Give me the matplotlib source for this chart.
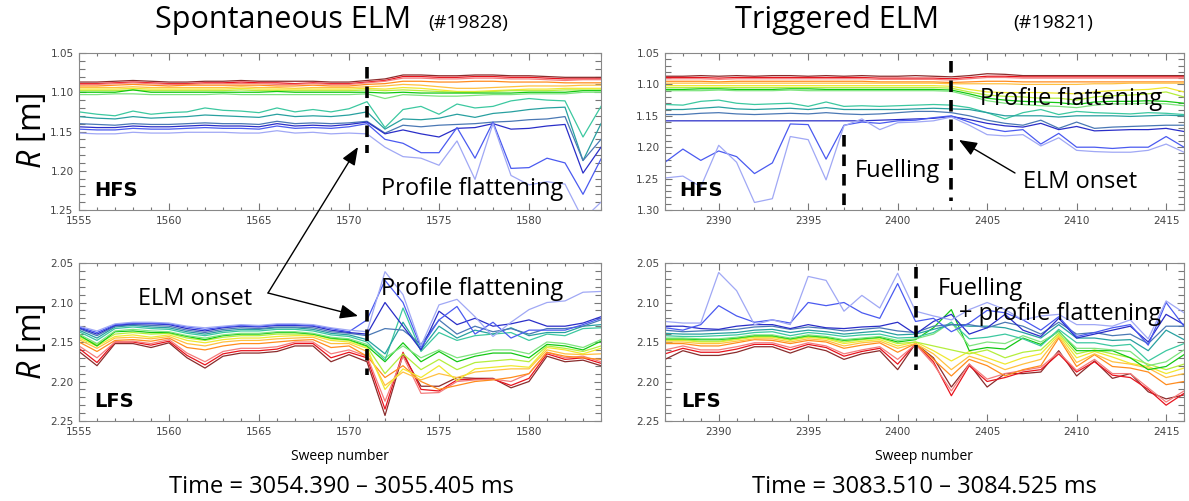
import numpy as np
import matplotlib
matplotlib.use("Agg")
import matplotlib.pyplot as plt
from matplotlib.patches import FancyArrowPatch
from matplotlib.ticker import MultipleLocator, FormatStrFormatter

plt.rcParams['font.family'] = ['Open Sans', 'DejaVu Sans']
plt.rcParams['mathtext.fontset'] = 'custom'
plt.rcParams['mathtext.it'] = 'Open Sans:italic'
plt.rcParams['mathtext.rm'] = 'Open Sans'

# ---------------------------------------------------------------- data
sweeps_spont = np.arange(1555, 1585)
sweeps_trig = np.arange(2387, 2417)

# density-layer colours, from highest density (red) to lowest (light blue)
layer_colors = ['#8b2c2c', '#e8141e', '#f47c7c', '#ff8c1e', '#ffc040',
                '#f0e830', '#b4ee3c', '#14c814', '#7ee47e', '#3cc8a0',
                '#28a0a0', '#4a78b4', '#2a2ec8', '#4a5af0', '#a0a8f5']

# reflectometry layer positions R in mm, one row per layer
hfs_spont = [
    [1087,1087,1086,1085,1086,1087,1087,1086,1086,1085,1086,1086,1086,1086,1087,1087,1085,1083,1078,1078,1079,1079,1078,1078,1079,1079,1080,1081,1081,1081],
    [1089,1089,1088,1087,1088,1089,1089,1088,1088,1087,1088,1088,1089,1088,1089,1089,1087,1085,1080,1080,1081,1081,1080,1080,1081,1081,1082,1083,1083,1083],
    [1090,1090,1089,1088,1089,1090,1090,1089,1089,1089,1089,1090,1090,1089,1090,1090,1088,1086,1082,1082,1083,1083,1082,1082,1083,1083,1084,1085,1084,1084],
    [1092,1092,1091,1090,1091,1092,1091,1091,1091,1091,1091,1092,1092,1091,1092,1092,1090,1089,1086,1086,1087,1087,1086,1086,1087,1087,1087,1088,1088,1088],
    [1094,1094,1094,1093,1094,1094,1094,1094,1094,1093,1094,1094,1095,1094,1094,1094,1093,1092,1090,1091,1093,1095,1095,1094,1093,1092,1092,1092,1091,1091],
    [1096,1096,1096,1095,1096,1096,1096,1096,1096,1095,1096,1096,1096,1096,1096,1096,1095,1096,1094,1095,1097,1099,1099,1098,1097,1096,1096,1095,1095,1095],
    [1098,1098,1098,1097,1098,1098,1098,1098,1098,1097,1098,1098,1098,1098,1098,1098,1097,1098,1097,1098,1099,1100,1100,1099,1098,1098,1098,1097,1097,1097],
    [1100,1100,1100,1097,1100,1100,1100,1100,1100,1100,1100,1099,1100,1100,1100,1100,1100,1101,1100,1101,1101,1101,1101,1101,1101,1100,1100,1100,1098,1098],
    [1103,1103,1102,1102,1103,1103,1103,1103,1102,1103,1103,1103,1103,1103,1103,1103,1102,1108,1103,1104,1105,1105,1104,1103,1103,1102,1102,1102,1100,1100],
    [1125,1128,1130,1124,1128,1126,1125,1120,1123,1124,1126,1120,1125,1122,1125,1121,1112,1145,1122,1118,1128,1115,1120,1118,1111,1108,1110,1111,1157,1118],
    [1131,1133,1134,1131,1133,1132,1131,1129,1130,1131,1132,1128,1131,1130,1131,1129,1125,1147,1134,1135,1133,1128,1132,1127,1125,1122,1120,1119,1187,1140],
    [1140,1141,1142,1140,1141,1141,1140,1139,1140,1140,1141,1137,1140,1139,1140,1139,1137,1152,1142,1144,1142,1141,1140,1138,1137,1135,1134,1131,1187,1160],
    [1144,1145,1145,1143,1144,1144,1143,1142,1143,1143,1144,1140,1143,1142,1143,1141,1138,1153,1148,1153,1157,1146,1145,1140,1147,1146,1143,1141,1203,1170],
    [1147,1148,1148,1146,1147,1147,1146,1145,1146,1146,1147,1143,1146,1145,1146,1144,1140,1160,1165,1177,1177,1145,1184,1138,1197,1196,1184,1190,1230,1185],
    [1152,1153,1153,1151,1152,1152,1151,1151,1151,1152,1152,1149,1152,1151,1153,1152,1153,1170,1182,1184,1193,1162,1211,1140,1206,1218,1214,1217,1262,1240],
]

lfs_spont = [
    [2162,2180,2152,2152,2157,2151,2170,2183,2168,2164,2164,2162,2155,2155,2175,2166,2175,2243,2166,2206,2206,2195,2196,2196,2208,2200,2168,2175,2173,2180],
    [2158,2176,2150,2150,2154,2149,2167,2179,2165,2161,2161,2159,2152,2152,2170,2163,2170,2235,2163,2210,2212,2198,2197,2197,2205,2196,2165,2172,2170,2177],
    [2155,2170,2150,2149,2152,2147,2164,2175,2162,2158,2158,2156,2150,2150,2165,2160,2168,2225,2168,2215,2214,2200,2198,2197,2200,2190,2163,2170,2168,2175],
    [2150,2162,2148,2147,2149,2145,2157,2160,2155,2152,2152,2150,2148,2147,2157,2155,2168,2195,2180,2200,2210,2205,2200,2198,2195,2190,2163,2168,2170,2172],
    [2147,2158,2145,2144,2146,2143,2152,2155,2150,2148,2148,2146,2145,2144,2152,2152,2162,2205,2188,2198,2190,2195,2188,2186,2184,2184,2160,2165,2166,2165],
    [2145,2155,2143,2141,2144,2141,2148,2151,2147,2145,2145,2143,2142,2142,2148,2150,2158,2210,2184,2195,2180,2199,2184,2182,2180,2182,2157,2160,2165,2158],
    [2143,2153,2140,2138,2140,2139,2145,2148,2144,2142,2142,2140,2140,2140,2146,2148,2156,2190,2165,2185,2172,2185,2176,2174,2172,2175,2155,2158,2162,2155],
    [2141,2155,2137,2136,2138,2138,2143,2147,2142,2140,2140,2138,2138,2140,2145,2147,2155,2175,2151,2175,2162,2175,2168,2164,2164,2170,2153,2155,2160,2149],
    [2140,2152,2136,2134,2136,2137,2142,2145,2141,2139,2139,2137,2137,2139,2144,2146,2153,2170,2155,2170,2160,2170,2165,2160,2160,2165,2150,2152,2157,2147],
    [2137,2148,2133,2131,2133,2134,2139,2142,2138,2136,2136,2134,2134,2136,2141,2143,2150,2173,2107,2162,2138,2148,2142,2140,2138,2148,2140,2142,2133,2132],
    [2135,2145,2131,2129,2131,2132,2137,2140,2136,2134,2134,2132,2132,2134,2139,2141,2147,2165,2125,2160,2130,2145,2135,2140,2132,2142,2138,2138,2130,2128],
    [2133,2142,2130,2128,2129,2130,2135,2138,2134,2132,2133,2131,2131,2132,2137,2139,2142,2133,2135,2153,2122,2140,2130,2137,2133,2140,2133,2133,2130,2122],
    [2132,2140,2129,2127,2127,2128,2133,2136,2132,2130,2131,2129,2129,2130,2135,2138,2140,2100,2130,2160,2111,2128,2120,2130,2127,2122,2130,2130,2126,2118],
    [2131,2138,2128,2126,2126,2127,2131,2134,2131,2129,2130,2128,2128,2129,2133,2137,2122,2072,2100,2157,2122,2105,2140,2125,2145,2135,2135,2135,2128,2120],
    [2130,2136,2127,2125,2125,2126,2130,2132,2130,2128,2129,2127,2127,2128,2132,2135,2137,2061,2090,2155,2103,2096,2118,2143,2125,2109,2100,2098,2087,2086],
]

hfs_trig = [
    [1087,1087,1086,1087,1086,1087,1086,1086,1087,1086,1087,1086,1087,1087,1086,1087,1088,1086,1083,1084,1086,1086,1086,1086,1086,1086,1086,1086,1086,1086],
    [1089,1089,1089,1090,1089,1089,1089,1089,1089,1089,1089,1089,1090,1090,1090,1090,1091,1089,1087,1087,1088,1088,1088,1088,1088,1088,1088,1088,1088,1088],
    [1091,1091,1091,1092,1091,1091,1091,1091,1091,1091,1091,1091,1092,1092,1092,1092,1093,1091,1089,1089,1090,1090,1090,1090,1090,1090,1090,1090,1090,1090],
    [1095,1095,1095,1096,1095,1095,1095,1095,1095,1095,1095,1095,1096,1096,1096,1096,1097,1096,1095,1095,1096,1096,1096,1096,1096,1096,1096,1096,1096,1096],
    [1098,1098,1098,1098,1098,1098,1098,1098,1098,1098,1098,1098,1098,1098,1098,1098,1099,1099,1099,1099,1100,1100,1100,1100,1099,1099,1098,1098,1098,1098],
    [1102,1102,1102,1102,1102,1102,1102,1102,1102,1102,1102,1102,1102,1102,1102,1102,1103,1108,1112,1113,1113,1113,1114,1115,1112,1110,1109,1108,1105,1112],
    [1105,1105,1105,1105,1105,1105,1105,1105,1105,1105,1105,1105,1105,1105,1105,1105,1106,1112,1117,1119,1120,1122,1122,1125,1120,1118,1117,1115,1112,1120],
    [1108,1108,1107,1107,1108,1108,1108,1107,1107,1108,1108,1108,1108,1108,1108,1108,1109,1115,1122,1125,1127,1128,1129,1132,1128,1127,1127,1126,1127,1130],
    [1110,1110,1110,1109,1110,1110,1110,1109,1110,1110,1110,1110,1110,1110,1110,1110,1111,1118,1126,1130,1132,1134,1135,1137,1133,1131,1131,1130,1131,1134],
    [1132,1133,1127,1125,1130,1132,1131,1130,1135,1128,1135,1134,1135,1134,1133,1132,1133,1137,1145,1155,1145,1140,1148,1143,1145,1146,1147,1145,1146,1148],
    [1140,1140,1138,1136,1139,1140,1139,1138,1140,1137,1140,1140,1140,1140,1139,1138,1139,1140,1145,1150,1150,1150,1152,1150,1150,1150,1151,1150,1149,1150],
    [1148,1148,1146,1145,1147,1148,1147,1146,1147,1145,1147,1148,1147,1145,1143,1143,1145,1150,1157,1162,1165,1157,1170,1160,1170,1168,1167,1166,1165,1165],
    [1158,1158,1158,1158,1158,1158,1158,1158,1158,1158,1158,1158,1157,1156,1155,1154,1151,1156,1162,1166,1168,1162,1172,1167,1174,1173,1172,1172,1170,1175],
    [1224,1203,1221,1206,1215,1242,1225,1163,1164,1219,1165,1160,1162,1158,1157,1153,1150,1160,1170,1175,1172,1195,1178,1200,1200,1202,1200,1200,1183,1200],
    [1249,1246,1263,1197,1224,1288,1282,1183,1188,1252,1166,1155,1172,1161,1160,1158,1152,1165,1180,1182,1180,1198,1185,1205,1207,1208,1208,1205,1195,1208],
]

lfs_trig = [
    [2172,2161,2167,2167,2163,2156,2156,2164,2156,2161,2172,2165,2161,2185,2152,2170,2207,2178,2207,2190,2190,2188,2161,2193,2174,2196,2190,2213,2222,2217],
    [2165,2158,2163,2163,2159,2153,2153,2160,2153,2157,2168,2162,2158,2178,2152,2175,2218,2180,2200,2195,2188,2185,2165,2188,2175,2192,2195,2210,2230,2215],
    [2160,2155,2160,2160,2156,2151,2151,2157,2151,2155,2165,2160,2156,2172,2153,2178,2212,2178,2197,2190,2186,2182,2163,2186,2172,2190,2190,2208,2226,2212],
    [2152,2152,2155,2155,2151,2147,2148,2152,2148,2150,2158,2154,2151,2163,2152,2172,2193,2172,2180,2193,2185,2180,2145,2181,2166,2181,2183,2188,2204,2200],
    [2150,2150,2152,2152,2149,2146,2146,2150,2146,2148,2155,2151,2149,2158,2152,2165,2185,2168,2175,2185,2178,2172,2143,2176,2165,2175,2178,2183,2195,2190],
    [2148,2148,2150,2150,2147,2144,2144,2148,2144,2146,2152,2149,2147,2155,2150,2161,2174,2162,2170,2178,2170,2165,2141,2170,2162,2169,2177,2181,2190,2183],
    [2147,2147,2149,2149,2146,2143,2143,2147,2143,2145,2150,2147,2145,2152,2150,2155,2160,2165,2160,2170,2163,2160,2139,2165,2160,2165,2170,2178,2185,2178],
    [2146,2146,2147,2147,2145,2142,2142,2146,2142,2144,2148,2146,2144,2150,2147,2132,2109,2161,2157,2159,2145,2153,2136,2161,2161,2161,2170,2185,2181,2166],
    [2145,2145,2146,2146,2144,2141,2141,2145,2141,2143,2147,2145,2143,2148,2146,2140,2125,2155,2150,2152,2142,2150,2137,2158,2158,2160,2162,2180,2175,2160],
    [2142,2143,2143,2142,2141,2138,2137,2142,2138,2140,2143,2141,2140,2145,2144,2138,2125,2146,2144,2140,2146,2155,2134,2151,2151,2155,2153,2174,2161,2152],
    [2139,2140,2140,2139,2138,2135,2134,2138,2135,2137,2140,2138,2136,2141,2140,2134,2128,2130,2130,2132,2138,2145,2128,2145,2145,2148,2147,2161,2135,2147],
    [2135,2137,2136,2135,2134,2131,2130,2134,2131,2133,2136,2134,2132,2136,2138,2130,2128,2128,2132,2125,2130,2140,2125,2140,2138,2142,2140,2152,2130,2130],
    [2130,2130,2133,2134,2130,2128,2128,2133,2128,2132,2133,2131,2130,2125,2140,2124,2115,2140,2132,2115,2135,2143,2120,2145,2140,2135,2130,2150,2115,2128],
    [2132,2135,2128,2104,2117,2125,2122,2126,2100,2104,2100,2113,2120,2076,2124,2120,2137,2126,2110,2113,2122,2135,2118,2143,2138,2132,2128,2154,2100,2130],
    [2124,2126,2126,2062,2085,2128,2122,2128,2067,2072,2111,2091,2107,2063,2111,2117,2122,2109,2100,2109,2122,2117,2115,2128,2128,2130,2122,2146,2098,2113],
]

# event markers (sweep number, R from, R to) in m
elm_spont_hfs = (1571, 1.068, 1.177)
elm_spont_lfs = (1571, 2.110, 2.192)
fuel_trig_hfs = (2397, 1.180, 1.297)
elm_trig_hfs = (2403, 1.062, 1.285)
fuel_trig_lfs = (2401, 2.055, 2.186)

# ---------------------------------------------------------------- figure
W, H = 1189, 501
fig = plt.figure(figsize=(W / 100, H / 100), dpi=100)


def fx(px):
    return px / W


def fy(py):
    return 1 - py / H


def panel(x0, y0, x1, y1):
    return fig.add_axes([fx(x0), fy(y1), (x1 - x0) / W, (y1 - y0) / H])


def style(ax, xlim, ylim):
    ax.set_xlim(*xlim)
    ax.set_ylim(ylim[1], ylim[0])
    ax.xaxis.set_major_locator(MultipleLocator(5))
    ax.xaxis.set_minor_locator(MultipleLocator(1))
    ax.yaxis.set_major_locator(MultipleLocator(0.05))
    ax.yaxis.set_minor_locator(MultipleLocator(0.01))
    ax.yaxis.set_major_formatter(FormatStrFormatter('%.2f'))
    ax.tick_params(which='both', direction='in', top=True, right=True,
                   color='#777777', width=0.8, labelcolor='#444444')
    ax.tick_params(which='major', length=5, labelsize=7.5, pad=4)
    ax.xaxis.set_tick_params(which='minor', length=2.5)
    ax.yaxis.set_tick_params(which='minor', length=4.5)
    for lab in ax.get_xticklabels() + ax.get_yticklabels():
        lab.set_family('DejaVu Sans')
    for s in ax.spines.values():
        s.set_color('#888888')
        s.set_linewidth(0.8)


def draw_layers(ax, sweeps, rows):
    for row, col in zip(rows, layer_colors):
        ax.plot(sweeps, np.array(row) / 1000.0, color=col, lw=0.9)


def marker(ax, ev):
    x, r0, r1 = ev
    ax.plot([x, x], [r0, r1], color='black', lw=2.6,
            linestyle=(0, (3.2, 2.2)), solid_capstyle='butt', zorder=5)


axTL = panel(79, 53, 601, 210)
axBL = panel(79, 263, 601, 421)
axTR = panel(665, 53, 1184, 210)
axBR = panel(665, 263, 1184, 421)

draw_layers(axTL, sweeps_spont, hfs_spont)
draw_layers(axBL, sweeps_spont, lfs_spont)
draw_layers(axTR, sweeps_trig, hfs_trig)
draw_layers(axBR, sweeps_trig, lfs_trig)

style(axTL, (1555, 1584), (1.05, 1.25))
style(axBL, (1555, 1584), (2.05, 2.25))
style(axTR, (2387, 2416), (1.05, 1.30))
style(axBR, (2387, 2416), (2.05, 2.25))

marker(axTL, elm_spont_hfs)
marker(axBL, elm_spont_lfs)
marker(axTR, fuel_trig_hfs)
marker(axTR, elm_trig_hfs)
marker(axBR, fuel_trig_lfs)

# titles
fig.text(fx(155), fy(28), 'Spontaneous ELM', fontsize=22, va='baseline')
fig.text(fx(428), fy(28), '(#19828)', fontsize=14, va='baseline')
fig.text(fx(735), fy(28), 'Triggered ELM', fontsize=22, va='baseline')
fig.text(fx(1013), fy(28), '(#19821)', fontsize=14, va='baseline')

# axis labels
for yc in (131, 342):
    fig.text(fx(32), fy(yc), r'$R$ [m]', fontsize=23, rotation=90,
             ha='center', va='center')
fig.text(fx(340), fy(460), 'Sweep number', fontsize=10, ha='center', va='baseline')
fig.text(fx(924), fy(460), 'Sweep number', fontsize=10, ha='center', va='baseline')
fig.text(fx(341), fy(493), 'Time = 3054.390 \u2013 3055.405 ms', fontsize=17,
         ha='center', va='baseline')
fig.text(fx(924), fy(493), 'Time = 3083.510 \u2013 3084.525 ms', fontsize=17,
         ha='center', va='baseline')

# side labels
for (x, y, s) in [(94, 196, 'HFS'), (679, 196, 'HFS'), (94, 407, 'LFS'), (681, 407, 'LFS')]:
    fig.text(fx(x), fy(y), s, fontsize=14, fontweight='bold', va='baseline',
             family='DejaVu Sans')

# annotations
ann = 17
fig.text(fx(381), fy(195), 'Profile flattening', fontsize=ann, va='baseline')
fig.text(fx(381), fy(295), 'Profile flattening', fontsize=ann, va='baseline')
fig.text(fx(138), fy(305), 'ELM onset', fontsize=ann, va='baseline')
fig.text(fx(980), fy(105), 'Profile flattening', fontsize=ann, va='baseline')
fig.text(fx(855), fy(177), 'Fuelling', fontsize=ann, va='baseline')
fig.text(fx(1023), fy(188), 'ELM onset', fontsize=ann, va='baseline')
fig.text(fx(938), fy(295), 'Fuelling', fontsize=ann, va='baseline')
fig.text(fx(959), fy(320), '+ profile flattening', fontsize=ann, va='baseline')

for (a, b) in [((268, 293), (358, 147)), ((268, 293), (358, 316)),
               ((1015, 173), (959, 140))]:
    arr = FancyArrowPatch((fx(a[0]), fy(a[1])), (fx(b[0]), fy(b[1])),
                          transform=fig.transFigure,
                          arrowstyle='-|>,head_length=0.55,head_width=0.22',
                          mutation_scale=20, lw=1.0, color='black',
                          shrinkA=0, shrinkB=0, zorder=10)
    fig.add_artist(arr)

fig.savefig('out.png', dpi=100)
